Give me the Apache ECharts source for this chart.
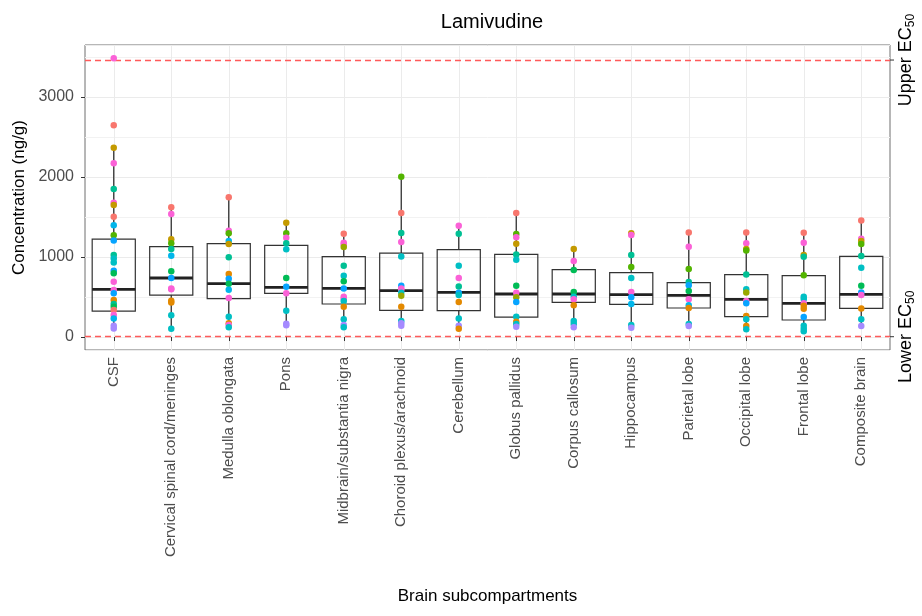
<!DOCTYPE html>
<html><head><meta charset="utf-8">
<script src="https://cdn.jsdelivr.net/npm/echarts@6/dist/echarts.min.js"></script>
<style>html,body{margin:0;padding:0;background:#fff}#c{width:922px;height:616px}</style>
</head><body><div id="c"></div>
<script>
// ---------- data ----------
const categories = ['CSF','Cervical spinal cord/meninges','Medulla oblongata','Pons',
  'Midbrain/substantia nigra','Choroid plexus/arachnoid','Cerebellum','Globus pallidus',
  'Corpus callosum','Hippocampus','Parietal lobe','Occipital lobe','Frontal lobe','Composite brain'];

// points: [concentration, subject id]
const csf = [[3483,12],[2646,0],[2367,2],[2171,12],[1850,6],[1679,12],[1650,2],[1504,0],[1396,8],[1271,4],[1208,9],[1025,6],[983,7],[933,7],[829,9],[796,5],[692,12],[587,12],[546,9],[462,1],[412,6],[379,5],[337,0],[275,12],[233,8],[142,10],[108,10]];
const cervical = [[1621,0],[1538,12],[1221,2],[1171,4],[1100,6],[1017,8],[821,5],[738,9],[608,12],[596,12],[454,1],[433,1],[271,7],[104,7]];
const medulla = [[1746,0],[1329,12],[1296,4],[1200,8],[1163,2],[996,6],[788,1],[729,9],[667,5],[592,8],[488,12],[254,7],[171,1],[150,12],[121,7]];
const pons = [[1429,2],[1296,4],[1242,12],[1171,6],[1096,7],[738,5],[629,9],[546,12],[329,7],[167,10],[146,10]];
const midbrain = [[1292,0],[1179,12],[1158,12],[1125,3],[892,6],[767,7],[696,5],[608,9],[504,12],[483,12],[450,7],[379,1],[221,7],[150,10],[121,7]];
const choroid = [[2004,4],[1550,0],[1300,6],[1188,12],[1008,7],[642,9],[608,12],[588,12],[554,7],[517,3],[379,1],[200,7],[171,10],[142,10]];
const cerebellum = [[1392,12],[1292,6],[892,7],[738,12],[633,6],[554,9],[525,7],[438,1],[233,7],[142,10],[104,1]];
const globus = [[1550,0],[1288,4],[1246,12],[1167,2],[1033,6],[967,7],[642,5],[554,12],[496,3],[438,9],[254,7],[192,1],[163,7],[129,10]];
const corpus = [[1100,2],[950,12],[838,5],[563,5],[504,7],[471,12],[396,1],[200,7],[163,7],[121,10]];
const hippocampus = [[1296,2],[1275,12],[1025,6],[875,4],[738,7],[563,12],[496,9],[412,8],[150,7],[117,10]];
const parietal = [[1308,0],[1129,12],[850,4],[688,6],[646,9],[575,5],[471,12],[396,8],[363,1],[163,7],[138,10]];
const occipital = [[1308,0],[1171,12],[1100,2],[1083,4],[783,6],[596,7],[558,3],[450,12],[421,9],[263,1],[221,7],[138,1],[96,7]];
const frontal = [[1304,0],[1179,12],[1025,2],[1004,6],[771,4],[504,7],[475,7],[421,12],[392,1],[354,1],[250,9],[142,7],[104,7],[71,7]];
const composite = [[1458,0],[1229,12],[1200,2],[1163,4],[1013,6],[867,7],[642,5],[558,9],[525,12],[358,1],[221,7],[138,10]];
const pointsByCategory = [csf,cervical,medulla,pons,midbrain,choroid,cerebellum,globus,corpus,hippocampus,parietal,occipital,frontal,composite];

// boxplot statistics (whisker low, Q1, median, Q3, whisker high)
const boxLow    = [108,104,121,146,121,142,104,129,121,117,138,96,71,138];
const boxQ1     = [325,525,479,546,413,333,329,250,433,408,363,254,213,358];
const boxMedian = [596,738,667,621,608,579,558,538,538,529,521,471,421,533];
const boxQ3     = [1225,1129,1167,1146,1004,1050,1092,1033,842,804,679,779,767,1008];
const boxHigh   = [2367,1621,1746,1429,1292,2004,1392,1550,1100,1296,1308,1308,1304,1458];

const yTicks = [0,1000,2000,3000];
const yMinorTicks = [500,1500,2500,3500];
const yMin = -162, yMax = 3650;
const upperEC50 = 3462, lowerEC50 = 4;

const subjectColors = ['#F8766D','#E38900','#C49A00','#99A800','#53B400','#00BC56','#00C094',
  '#00BFC4','#00B6EB','#06A4FF','#A58AFF','#DF70F8','#FB61D7','#FF66A8'];

// ---------- chart ----------
const FONT = 'Arial, "Liberation Sans", sans-serif';
const chart = echarts.init(document.getElementById('c'), null, {renderer:'canvas'});

const scatterData = [];
pointsByCategory.forEach((pts, i) => pts.forEach(p => scatterData.push({
  value: [i, p[0]], itemStyle: {color: subjectColors[p[1]], opacity: 1, borderWidth: 0}
})));

const boxData = categories.map((c, i) => [i, boxLow[i], boxQ1[i], boxMedian[i], boxQ3[i], boxHigh[i]]);

const option = {
  animation: false,
  textStyle: {fontFamily: FONT},
  title: {text:'Lamivudine', left: 487, top: 7, textAlign:'center',
    textStyle:{fontFamily:FONT, fontSize:20, fontWeight:'normal', color:'#000'}},
  grid: {left:85, right:32, top:45, bottom:266, show:true, borderColor:'#6e6e6e', borderWidth:1, backgroundColor:'transparent'},
  xAxis: {
    type:'category', data: categories, boundaryGap:true,
    name:'Brain subcompartments', nameLocation:'middle', nameGap:238,
    nameTextStyle:{fontFamily:FONT, fontSize:17, color:'#000'},
    axisLine:{show:false},
    axisTick:{show:true, alignWithLabel:true, length:4, lineStyle:{color:'#333'}},
    axisLabel:{rotate:90, margin:7, fontSize:15, color:'#4D4D4D', fontFamily:FONT, interval:0},
    splitLine:{show:false}
  },
  yAxis: {
    type:'value', min:yMin, max:yMax, splitNumber:4,
    name:'Concentration (ng/g)', nameLocation:'middle', nameGap:57,
    nameTextStyle:{fontFamily:FONT, fontSize:17, color:'#000'},
    axisLine:{show:false},
    axisTick:{show:true, length:4, lineStyle:{color:'#333'}},
    axisLabel:{fontSize:16, color:'#4D4D4D', fontFamily:FONT, margin:11, showMinLabel:false, showMaxLabel:false,
      formatter: v => yTicks.indexOf(v) >= 0 ? String(v) : ''},
    splitLine:{show:true, lineStyle:{color:'#EBEBEB', width:1, type:'solid'}}
  },
  series: [
    { // gridlines (minor horizontal + vertical at categories)
      type:'scatter', data:[], z:0, silent:true,
      markLine:{silent:true, z:0, symbol:'none', label:{show:false}, animation:false,
        lineStyle:{color:'#EBEBEB', width:1, type:'solid'},
        data: yMinorTicks.map(v => ({yAxis:v, lineStyle:{color:'#F2F2F2', width:1, type:'solid'}}))
          .concat(categories.map((c,i)=>({xAxis:i})))
      }
    },
    { // EC50 reference lines
      type:'scatter', data:[], z:1, silent:true,
      markLine:{silent:true, z:1, symbol:'none', label:{show:false}, animation:false,
        lineStyle:{color:'#FF5A5A', width:1.3, type:[6,4]},
        data:[{yAxis:upperEC50},{yAxis:lowerEC50}]}
    },
    {
      type:'custom', z:2, silent:true,
      renderItem: function(params, api) {
        const x = api.value(0);
        const pLow = api.coord([x, api.value(1)]);
        const pQ1 = api.coord([x, api.value(2)]);
        const pMed = api.coord([x, api.value(3)]);
        const pQ3 = api.coord([x, api.value(4)]);
        const pHigh = api.coord([x, api.value(5)]);
        const w = api.size([1, 0])[0] * 0.75;
        const cx = pMed[0];
        const st = {stroke:'#333', lineWidth:1.3, fill:null};
        return {type:'group', children:[
          {type:'line', shape:{x1:cx, y1:pQ3[1], x2:cx, y2:pHigh[1]}, style:st},
          {type:'line', shape:{x1:cx, y1:pQ1[1], x2:cx, y2:pLow[1]}, style:st},
          {type:'rect', shape:{x:cx - w/2, y:pQ3[1], width:w, height:pQ1[1]-pQ3[1]}, style:{stroke:'#333', lineWidth:1.2, fill:'rgba(255,255,255,0)'}},
          {type:'line', shape:{x1:cx - w/2, y1:pMed[1], x2:cx + w/2, y2:pMed[1]}, style:{stroke:'#222', lineWidth:2.8}}
        ]};
      },
      encode:{x:0, y:[1,2,3,4,5]},
      data: boxData
    },
    {
      type:'scatter', z:5, symbol:'circle', symbolSize:6.5,
      itemStyle:{opacity:1, borderWidth:0},
      emphasis:{disabled:true},
      data: scatterData
    }
  ]
};
chart.setOption(option);

// right-side secondary labels at the EC50 lines
function addRightLabels() {
  const yU = chart.convertToPixel({yAxisIndex:0}, upperEC50);
  const yL = chart.convertToPixel({yAxisIndex:0}, lowerEC50);
  const xR = chart.convertToPixel({xAxisIndex:0}, categories.length - 1) + chart.getModel().getComponent('xAxis',0).axis.getBandWidth()/2;
  const rich = {a:{fontSize:18, color:'#4D4D4D', fontFamily:FONT}, s:{fontSize:12, color:'#4D4D4D', fontFamily:FONT, padding:[9,0,0,0]}};
  const mk = (txt, y) => ({type:'text', x: xR + 16, y: y, rotation: Math.PI/2,
    style:{text:'{a|' + txt + ' EC}{s|50}', rich: rich, align:'center', verticalAlign:'middle'}});
  const tick = y => ({type:'line', shape:{x1:xR, y1:y, x2:xR+4, y2:y}, style:{stroke:'#333', lineWidth:1}});
  chart.setOption({graphic:[mk('Upper', yU), mk('Lower', yL), tick(yU), tick(yL)]});
}
addRightLabels();
</script>
</body></html>
